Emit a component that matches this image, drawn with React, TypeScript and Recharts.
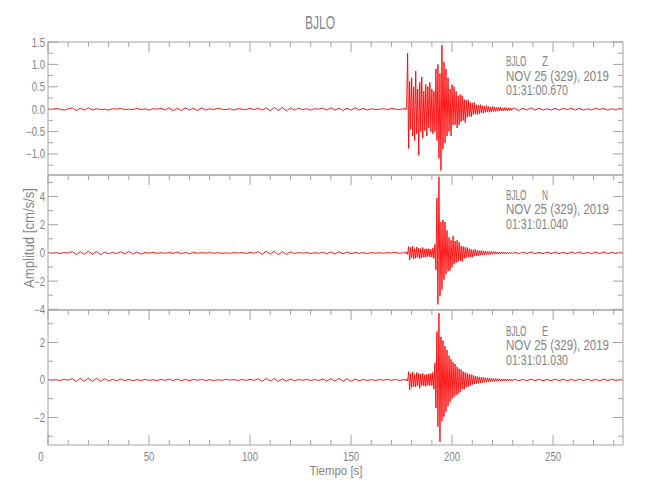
import React from 'react';
import { LineChart, Line, XAxis, YAxis } from 'recharts';

const W = 650;
const H = 500;
const PLOT_LEFT = 48;
const PLOT_RIGHT = 623;
const PANEL_EDGES = [42, 175, 310, 445];
const TIME_MAX = 284.6;

const AXIS = '#a3a3a3';
const INK = '#858585';
const TRACE = '#ff0000';
const FONT = "'Liberation Sans', Arial, sans-serif";

const X_TICKS = [0, 10, 20, 30, 40, 50, 60, 70, 80, 90, 100, 110, 120, 130, 140, 150, 160, 170, 180, 190, 200, 210, 220, 230, 240, 250, 260, 270, 280];

// sampling of the three pieces of every trace (seconds)
const QUIET_STEP = 2;
const EVENT_START = 176.5;
const EVENT_STEP = 0.5;
const TAIL_START = 231;
const TAIL_STEP = 2;

// Z component
const zQuiet = [
  0.01, -0.01, 0.02, 0.0, -0.02, 0.01, 0.03, -0.03, 0.02, -0.02,
  0.03, -0.02, 0.01, -0.01, 0.0, -0.02, 0.01, 0.0, 0.02, -0.01,
  0.0, -0.01, 0.02, -0.01, 0.01, -0.02, 0.01, 0.0, 0.02, -0.02,
  0.03, -0.03, 0.02, -0.03, 0.03, -0.02, 0.02, -0.03, 0.03, -0.02,
  0.01, -0.01, 0.02, 0.0, -0.01, 0.01, -0.02, 0.01, 0.0, -0.01,
  0.02, -0.01, 0.02, -0.02, 0.03, -0.04, 0.04, -0.03, 0.04, -0.04,
  0.03, -0.02, 0.02, -0.01, 0.01, -0.02, 0.01, 0.0, 0.02, -0.02,
  0.03, -0.02, 0.02, -0.03, 0.02, -0.02, 0.03, -0.02, 0.02, -0.02,
  0.01, -0.01, 0.0, 0.01, -0.01, 0.02, 0.0, -0.01, 0.01,
];
const zEvent = [
  0.02, -0.02, 0.03, 1.25, -0.88, 0.62, -0.45, 0.7, -0.6, 0.5,
  -0.7, 0.85, -0.55, 0.45, -1.03, 0.6, -0.5, 0.72, -0.65, 0.4,
  -0.48, 0.55, -0.6, 0.5, -0.42, 0.6, -0.5, 0.45, -0.55, 0.4,
  -0.5, 0.9, -0.7, 1.0, -1.1, 0.8, -1.37, 1.43, -0.9, 1.05,
  -0.75, 0.9, -0.6, 0.7, -0.5, 0.45, -0.6, 0.55, -0.35, 0.5,
  -0.35, 0.4, -0.42, 0.3, -0.35, 0.33, -0.28, 0.3, -0.25, 0.22,
  -0.3, 0.2, -0.18, 0.2, -0.16, 0.15, -0.17, 0.14, -0.12, 0.15,
  -0.11, 0.1, -0.12, 0.09, -0.1, 0.1, -0.08, 0.08, -0.09, 0.07,
  -0.07, 0.08, -0.06, 0.06, -0.07, 0.05, -0.06, 0.06, -0.05, 0.05,
  -0.05, 0.04, -0.05, 0.04, -0.04, 0.05, -0.04, 0.03, -0.04, 0.04,
  -0.03, 0.03, -0.04, 0.03, -0.03, 0.03, -0.03, 0.02,
];
const zTail = [
  0.02, -0.03, 0.02, -0.02, 0.03, -0.02, 0.02, -0.02, 0.01, -0.02,
  0.02, -0.02, 0.02, -0.01, 0.02, -0.02, 0.02, -0.02, 0.01, -0.02,
  0.02, -0.01, 0.02, -0.02, 0.01, -0.02, 0.02, -0.01,
];

// N component
const nQuiet = [
  0.04, -0.03, 0.02, -0.04, 0.03, 0.0, 0.1, -0.12, 0.08, -0.1,
  0.12, -0.09, 0.1, -0.11, 0.06, -0.05, 0.03, -0.04, 0.08, -0.07,
  0.1, -0.08, 0.07, -0.09, 0.03, -0.02, 0.04, -0.03, 0.02, -0.03,
  0.05, -0.04, 0.06, -0.05, 0.04, -0.06, 0.05, -0.03, 0.03, -0.02,
  0.03, -0.02, 0.02, -0.03, 0.01, -0.03, 0.03, -0.01, 0.02, -0.03,
  0.04, -0.03, 0.09, -0.1, 0.12, -0.09, 0.11, -0.12, 0.09, -0.1,
  0.07, -0.05, 0.03, -0.02, 0.03, -0.04, 0.02, -0.03, 0.06, -0.07,
  0.08, -0.07, 0.09, -0.06, 0.07, -0.06, 0.04, -0.03, 0.02, -0.04,
  0.03, -0.02, 0.02, -0.03, 0.03, -0.01, 0.04, -0.03, 0.02,
];
const nEvent = [
  0.05, -0.06, 0.08, -0.1, 0.45, -0.5, 0.4, -0.35, 0.48, -0.42,
  0.3, -0.38, 0.42, -0.3, 0.35, -0.4, 0.3, -0.35, 0.38, -0.3,
  0.28, -0.32, 0.3, -0.25, 0.3, -0.28, 0.25, -0.3, 0.35, -0.4,
  0.6, -1.2, 3.9, -3.65, 5.4, -3.07, 2.2, -2.6, 2.35, -1.9,
  2.2, -1.5, 1.6, -1.3, 1.1, -1.25, 0.9, -1.0, 1.2, -0.8,
  0.85, -0.7, 0.9, -0.6, 0.75, -0.55, 0.5, -0.6, 0.45, -0.4,
  0.4, -0.35, 0.38, -0.3, 0.3, -0.28, 0.25, -0.3, 0.22, -0.2,
  0.25, -0.2, 0.18, -0.2, 0.16, -0.15, 0.17, -0.14, 0.14, -0.12,
  0.13, -0.12, 0.1, -0.11, 0.12, -0.1, 0.1, -0.09, 0.1, -0.08,
  0.09, -0.08, 0.07, -0.08, 0.07, -0.06, 0.07, -0.06, 0.06, -0.06,
  0.05, -0.05, 0.06, -0.05, 0.05, -0.05, 0.04, -0.05,
];
const nTail = [
  0.05, -0.06, 0.05, -0.04, 0.06, -0.05, 0.04, -0.05, 0.05, -0.04,
  0.05, -0.05, 0.04, -0.05, 0.05, -0.04, 0.05, -0.05, 0.04, -0.05,
  0.05, -0.04, 0.05, -0.05, 0.04, -0.05, 0.05, -0.04,
];

// E component
const eQuiet = [
  0.03, -0.02, 0.02, -0.03, 0.03, -0.01, 0.07, -0.09, 0.08, -0.07,
  0.09, -0.07, 0.08, -0.08, 0.06, -0.05, 0.03, -0.04, 0.05, -0.04,
  0.03, -0.04, 0.02, -0.03, 0.03, -0.02, 0.01, -0.03, 0.03, -0.02,
  0.04, -0.03, 0.05, -0.04, 0.03, -0.04, 0.03, -0.02, 0.03, -0.03,
  0.02, -0.03, 0.01, -0.02, 0.03, -0.01, 0.02, -0.03, 0.02, -0.02,
  0.03, -0.02, 0.06, -0.07, 0.08, -0.06, 0.07, -0.08, 0.06, -0.07,
  0.05, -0.04, 0.03, -0.02, 0.03, -0.03, 0.02, -0.03, 0.05, -0.06,
  0.07, -0.06, 0.08, -0.07, 0.06, -0.07, 0.05, -0.04, 0.03, -0.03,
  0.02, -0.03, 0.02, -0.01, 0.03, -0.02, 0.03, -0.03, 0.02,
];
const eEvent = [
  0.04, -0.05, 0.05, -0.06, 0.44, -0.53, 0.35, -0.4, 0.42, -0.35,
  0.3, -0.38, 0.4, -0.3, 0.35, -0.45, 0.3, -0.3, 0.35, -0.32,
  0.28, -0.35, 0.3, -0.28, 0.32, -0.3, 0.35, -0.3, 0.4, -0.5,
  0.9, -1.5, 2.58, -2.49, 3.56, -3.29, 2.3, -2.2, 2.1, -1.96,
  1.8, -1.7, 1.6, -1.4, 1.3, -1.2, 1.1, -1.0, 0.95, -0.9,
  0.85, -0.8, 0.7, -0.75, 0.6, -0.65, 0.55, -0.5, 0.45, -0.5,
  0.4, -0.38, 0.35, -0.35, 0.3, -0.3, 0.28, -0.25, 0.25, -0.22,
  0.2, -0.2, 0.18, -0.18, 0.16, -0.16, 0.15, -0.14, 0.14, -0.13,
  0.12, -0.12, 0.11, -0.1, 0.1, -0.1, 0.09, -0.08, 0.08, -0.08,
  0.07, -0.07, 0.07, -0.06, 0.06, -0.06, 0.05, -0.05, 0.05, -0.05,
  0.05, -0.04, 0.05, -0.04, 0.04, -0.04, 0.04, -0.04,
];
const eTail = [
  0.04, -0.04, 0.03, -0.04, 0.04, -0.03, 0.04, -0.04, 0.03, -0.04,
  0.04, -0.03, 0.04, -0.04, 0.03, -0.04, 0.04, -0.03, 0.04, -0.04,
  0.03, -0.04, 0.04, -0.03, 0.04, -0.04, 0.03, -0.04,
];

const Z_TICKS = [-1.25, -1, -0.75, -0.5, -0.25, 0, 0.25, 0.5, 0.75, 1, 1.25, 1.5];
const N_TICKS = [-4, -3, -2, -1, 0, 1, 2, 3, 4, 5];
const E_TICKS = [-3, -2, -1, 0, 1, 2, 3];

const buildTrace = (quiet: number[], event: number[], tail: number[]) => [
  ...quiet.map((v, i) => ({ t: i * QUIET_STEP, v })),
  ...event.map((v, i) => ({ t: EVENT_START + i * EVENT_STEP, v })),
  ...tail.map((v, i) => ({ t: TAIL_START + i * TAIL_STEP, v })),
];

const minus = (s: string) => s.replace('-', '\u2212');

const panels = [
  {
    comp: 'Z',
    data: buildTrace(zQuiet, zEvent, zTail),
    domain: [-1.47, 1.5],
    ticks: Z_TICKS,
    majorStep: 0.5,
    fmt: (v: number) => minus(v.toFixed(1)),
    date: 'NOV 25 (329), 2019',
    time: '01:31:00.670',
  },
  {
    comp: 'N',
    data: buildTrace(nQuiet, nEvent, nTail),
    domain: [-4.05, 5.53],
    ticks: N_TICKS,
    majorStep: 2,
    fmt: (v: number) => minus(String(v)),
    date: 'NOV 25 (329), 2019',
    time: '01:31:01.040',
  },
  {
    comp: 'E',
    data: buildTrace(eQuiet, eEvent, eTail),
    domain: [-3.47, 3.73],
    ticks: E_TICKS,
    majorStep: 2,
    fmt: (v: number) => minus(String(v)),
    date: 'NOV 25 (329), 2019',
    time: '01:31:01.030',
  },
];

const isMajor = (v: number, step: number) => Math.abs(v / step - Math.round(v / step)) < 1e-6;

const textStyle = { fontFamily: FONT, fill: INK };

// narrow text, to mimic the thin plotter font of the original
function Narrow({ x, y, size, anchor = 'start', sx = 0.8, children }: any) {
  return (
    <g transform={`translate(${x} ${y}) scale(${sx} 1)`}>
      <text x={0} y={0} fontSize={size} textAnchor={anchor} style={textStyle}>
        {children}
      </text>
    </g>
  );
}

function Panel({ p, idx }: { p: (typeof panels)[number]; idx: number }) {
  const top = PANEL_EDGES[idx];
  const bottom = PANEL_EDGES[idx + 1];
  const last = idx === panels.length - 1;

  return (
    <div style={{ position: 'absolute', left: 0, top: 0 }}>
      <LineChart
        width={W}
        height={H}
        data={p.data}
        margin={{ top: top - 1, bottom: H - bottom - 1, left: PLOT_LEFT - 1, right: W - PLOT_RIGHT - 1 }}
      >
        <XAxis
          xAxisId="b"
          dataKey="t"
          type="number"
          domain={[0, TIME_MAX]}
          allowDataOverflow
          ticks={X_TICKS}
          interval={0}
          height={1}
          tickSize={0}
          tickMargin={0}
          axisLine={{ stroke: AXIS }}
          tickLine={false}
          tick={(t: any) => {
            if (!last) return <g />;
            const major = isMajor(t.payload.value, 50);
            return (
              <g>
                <line x1={t.x} x2={t.x} y1={t.y} y2={t.y - (major ? 10 : 5)} stroke={AXIS} />
                {major && (
                  <Narrow x={t.payload.value === 0 ? t.x - 7 : t.x} y={t.y + 16} size={12} anchor="middle">
                    {t.payload.value}
                  </Narrow>
                )}
              </g>
            );
          }}
        />
        <XAxis
          xAxisId="t"
          orientation="top"
          dataKey="t"
          type="number"
          domain={[0, TIME_MAX]}
          allowDataOverflow
          ticks={X_TICKS}
          interval={0}
          height={1}
          tickSize={0}
          tickMargin={0}
          axisLine={{ stroke: AXIS }}
          tickLine={false}
          tick={(t: any) => {
            const major = isMajor(t.payload.value, 50);
            return <line x1={t.x} x2={t.x} y1={t.y} y2={t.y + (major ? 10 : 5)} stroke={AXIS} />;
          }}
        />
        <YAxis
          yAxisId="l"
          type="number"
          domain={p.domain}
          allowDataOverflow
          ticks={p.ticks}
          interval={0}
          width={1}
          tickSize={0}
          tickMargin={0}
          axisLine={{ stroke: AXIS }}
          tickLine={false}
          tick={(t: any) => {
            const major = isMajor(t.payload.value, p.majorStep);
            return (
              <g>
                <line x1={t.x} x2={t.x + (major ? 10 : 5)} y1={t.y} y2={t.y} stroke={AXIS} />
                {major && (
                  <Narrow x={t.x - 3} y={t.y + 4.5} size={12} anchor="end">
                    {p.fmt(t.payload.value)}
                  </Narrow>
                )}
              </g>
            );
          }}
        />
        <YAxis
          yAxisId="r"
          orientation="right"
          type="number"
          domain={p.domain}
          allowDataOverflow
          ticks={p.ticks}
          interval={0}
          width={1}
          tickSize={0}
          tickMargin={0}
          axisLine={{ stroke: AXIS }}
          tickLine={false}
          tick={(t: any) => {
            const major = isMajor(t.payload.value, p.majorStep);
            return <line x1={t.x} x2={t.x - (major ? 10 : 5)} y1={t.y} y2={t.y} stroke={AXIS} />;
          }}
        />
        <Line
          xAxisId="b"
          yAxisId="l"
          type="linear"
          dataKey="v"
          stroke={TRACE}
          strokeWidth={0.9}
          dot={false}
          isAnimationActive={false}
        />
      </LineChart>
    </div>
  );
}

const HEADER_BASE = [66, 199.5, 335.5];

export default function App() {
  return (
    <div style={{ position: 'absolute', left: 0, top: 0, width: W, height: H, background: '#fff' }}>
      {panels.map((p, i) => (
        <Panel key={p.comp} p={p} idx={i} />
      ))}
      <svg width={W} height={H} style={{ position: 'absolute', left: 0, top: 0, pointerEvents: 'none' }}>
        <text x={320} y={29} textAnchor="middle" fontSize={18} textLength={30} lengthAdjust="spacingAndGlyphs" style={textStyle}>
          BJLO
        </text>
        {panels.map((p, i) => (
          <g key={p.comp} fontSize={14} style={textStyle}>
            <text x={506} y={HEADER_BASE[i]} textLength={20.5} lengthAdjust="spacingAndGlyphs">BJLO</text>
            <text x={542} y={HEADER_BASE[i]} textLength={6} lengthAdjust="spacingAndGlyphs">{p.comp}</text>
            <text x={506} y={HEADER_BASE[i] + 14.5} textLength={103} lengthAdjust="spacingAndGlyphs">{p.date}</text>
            <text x={506} y={HEADER_BASE[i] + 29} textLength={62} lengthAdjust="spacingAndGlyphs">{p.time}</text>
          </g>
        ))}
        <text x={336} y={475} textAnchor="middle" fontSize={13.5} textLength={53} lengthAdjust="spacingAndGlyphs" style={textStyle}>
          Tiempo [s]
        </text>
        <text
          x={0}
          y={0}
          transform="translate(34 238) rotate(-90)"
          textAnchor="middle"
          fontSize={14}
          textLength={100}
          lengthAdjust="spacingAndGlyphs"
          style={textStyle}
        >
          Amplitud [cm/s/s]
        </text>
      </svg>
    </div>
  );
}
